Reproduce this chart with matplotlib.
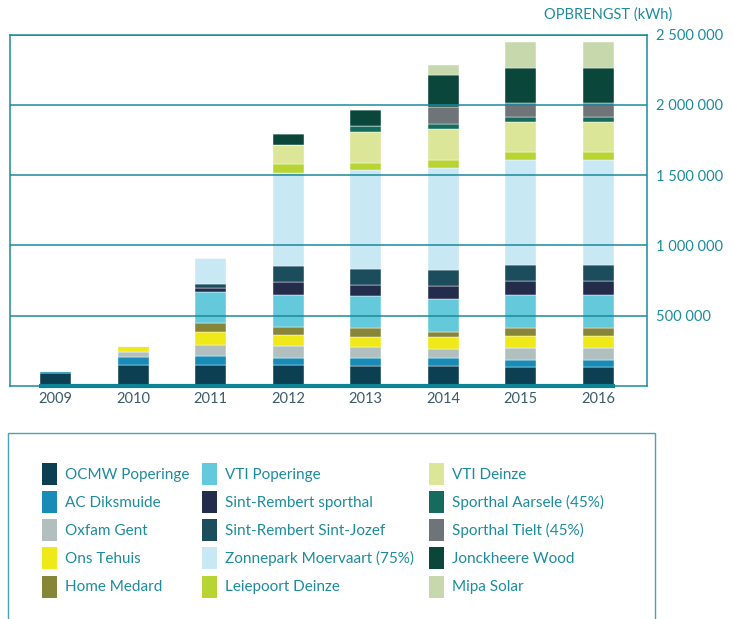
import matplotlib
matplotlib.use("Agg")
import matplotlib.pyplot as plt
from matplotlib.patches import Patch, Rectangle
import numpy as np

years = ["2009", "2010", "2011", "2012", "2013", "2014", "2015", "2016"]

series_names = [
    "OCMW Poperinge", "AC Diksmuide", "Oxfam Gent", "Ons Tehuis", "Home Medard",
    "VTI Poperinge", "Sint-Rembert sporthal", "Sint-Rembert Sint-Jozef",
    "Zonnepark Moervaart (75%)", "Leiepoort Deinze",
    "VTI Deinze", "Sporthal Aarsele (45%)", "Sporthal Tielt (45%)",
    "Jonckheere Wood", "Mipa Solar",
]

# values in kWh
ocmw_poperinge = [92000, 150000, 148000, 148000, 143000, 141000, 136000, 136000]
ac_diksmuide = [12000, 54000, 65000, 54000, 54000, 56000, 52000, 52000]
oxfam_gent = [0, 35000, 77000, 82000, 80000, 68000, 80000, 80000]
ons_tehuis = [0, 49000, 92000, 82000, 73000, 85000, 85000, 85000]
home_medard = [0, 0, 66000, 54000, 61000, 35000, 61000, 61000]
vti_poperinge = [0, 0, 218000, 228000, 230000, 237000, 235000, 235000]
sint_rembert_sporthal = [0, 0, 28000, 94000, 77000, 89000, 99000, 99000]
sint_rembert_sint_jozef = [0, 0, 35000, 110000, 115000, 113000, 113000, 113000]
zonnepark_moervaart = [0, 0, 183000, 664000, 700000, 727000, 744000, 744000]
leiepoort_deinze = [0, 0, 0, 66000, 51000, 59000, 58000, 58000]
vti_deinze = [0, 0, 0, 129000, 225000, 218000, 213000, 213000]
sporthal_aarsele = [0, 0, 0, 0, 40000, 32000, 40000, 40000]
sporthal_tielt = [0, 0, 0, 0, 0, 125000, 94000, 94000]
jonckheere_wood = [0, 0, 0, 82000, 113000, 230000, 251000, 251000]
mipa_solar = [0, 0, 0, 0, 0, 70000, 183000, 183000]

series_values = [
    ocmw_poperinge, ac_diksmuide, oxfam_gent, ons_tehuis, home_medard,
    vti_poperinge, sint_rembert_sporthal, sint_rembert_sint_jozef,
    zonnepark_moervaart, leiepoort_deinze, vti_deinze, sporthal_aarsele,
    sporthal_tielt, jonckheere_wood, mipa_solar,
]

colors = [
    "#0d3f52", "#188cb6", "#b1c0bf", "#f0e91a", "#878537",
    "#64cadb", "#242c4b", "#1b4d5c", "#c8e8f4", "#b7d433",
    "#dbe699", "#146b5e", "#6e7477", "#0b463b", "#c8d8ad",
]

yticks = [500000, 1000000, 1500000, 2000000, 2500000]

TEAL = "#1a8a9b"
TEXT_TEAL = "#1c8c9c"
XLAB = "#3a5c66"

plt.rcParams["font.family"] = ["Lato", "DejaVu Sans"]

W, H = 734, 619
fig = plt.figure(figsize=(W / 100, H / 100), dpi=100)

left_px, right_px, top_px, bot_px = 10, 647, 34.5, 386
ax = fig.add_axes([left_px / W, 1 - bot_px / H, (right_px - left_px) / W, (bot_px - top_px) / H])

x = np.arange(len(years))
bottom = np.zeros(len(years))
for vals, col in zip(series_values, colors):
    v = np.array(vals, dtype=float)
    ax.bar(x, v, width=0.40, bottom=bottom, color=col, edgecolor="white",
           linewidth=0.3, zorder=1)
    bottom += v

ax.set_xlim(-0.59, 7.63)
ax.set_ylim(0, 2500000)

ax.set_axisbelow(False)
ax.yaxis.tick_right()
ax.set_yticks(yticks)
ax.set_yticklabels([f"{v:,.0f}".replace(",", " ") for v in yticks])
ax.grid(axis="y", color=TEAL, linewidth=1.1)
ax.tick_params(axis="y", length=0, pad=6.5, labelsize=10.5, labelcolor=TEXT_TEAL)
ax.set_xticks(x)
ax.set_xticklabels(years)
ax.tick_params(axis="x", length=0, pad=4, labelsize=10.5, labelcolor=XLAB)

for s in ax.spines.values():
    s.set_color(TEAL)
    s.set_linewidth(1.1)

ax.hlines(0, -0.22, 7.22, color="#0c8496", linewidth=3, zorder=4, clip_on=False)

fig.text(672 / W, 1 - 15 / H, "OPBRENGST (kWh)", ha="right", va="center",
         fontsize=10.5, color=TEXT_TEAL)

# legend box (open at the bottom edge of the image)
fig.patches.append(Rectangle((8 / W, -0.05), (655 - 8) / W, 0.05 + 1 - 433 / H,
                             transform=fig.transFigure, fill=False,
                             edgecolor="#4aa3b0", linewidth=1.0))

col_x = [42, 202, 429]
for c in range(3):
    handles = [Patch(facecolor=colors[i], edgecolor="none") for i in range(c * 5, c * 5 + 5)]
    labels = series_names[c * 5: c * 5 + 5]
    leg = fig.legend(handles, labels, loc="upper left",
                     bbox_to_anchor=(col_x[c] / W, 1 - 463 / H),
                     frameon=False, borderpad=0, borderaxespad=0,
                     handlelength=0.95, handleheight=1.84, handletextpad=0.55,
                     labelspacing=0.4, fontsize=11, labelcolor=TEXT_TEAL)

fig.savefig("out.png", dpi=100)
